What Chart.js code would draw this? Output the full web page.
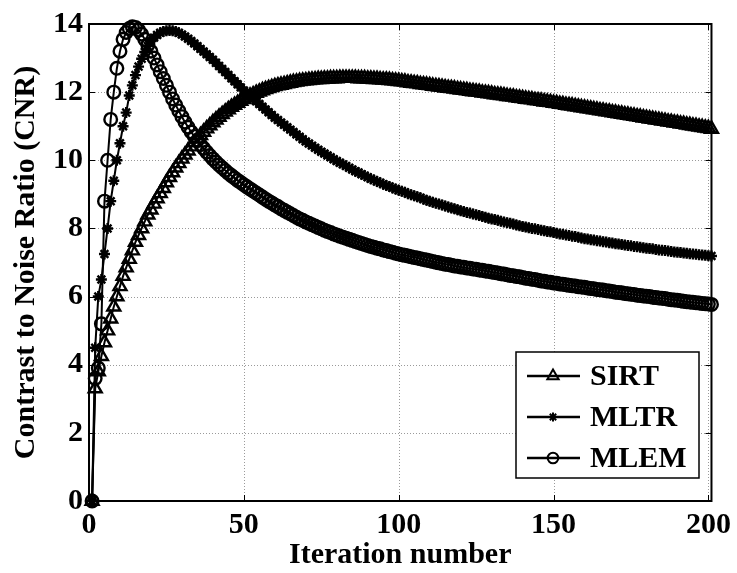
<!DOCTYPE html>
<html>
<head>
<meta charset="utf-8">
<script src="https://cdn.jsdelivr.net/npm/chart.js"></script>
<style>
  body { margin: 0; background: #fff; }
  canvas { display: block; }
</style>
</head>
<body>
<canvas id="cnr" width="737" height="573"></canvas>
<script>
// iteration numbers (x) and CNR per reconstruction method
const iterations = Array.from({ length: 201 }, (_, i) => i + 1);

const sirt = [
  0, 3.3, 3.8, 4.25, 4.65, 5.0, 5.35, 5.7, 6.0, 6.3,
  6.6, 6.85, 7.1, 7.35, 7.6, 7.8, 8.0, 8.2, 8.4, 8.55,
  8.72, 8.88, 9.03, 9.18, 9.35, 9.5, 9.64, 9.78, 9.91, 10.04,
  10.16, 10.28, 10.4, 10.52, 10.63, 10.73, 10.83, 10.93, 11.02, 11.11,
  11.19, 11.27, 11.35, 11.42, 11.49, 11.56, 11.62, 11.68, 11.74, 11.79,
  11.84, 11.89, 11.93, 11.97, 12.01, 12.05, 12.08, 12.11, 12.14, 12.17,
  12.19, 12.21, 12.23, 12.25, 12.27, 12.29, 12.3, 12.32, 12.33, 12.34,
  12.35, 12.36, 12.37, 12.38, 12.38, 12.39, 12.39, 12.4, 12.4, 12.4,
  12.41, 12.41, 12.41, 12.41, 12.41, 12.41, 12.4, 12.4, 12.4, 12.39,
  12.39, 12.38, 12.38, 12.37, 12.36, 12.36, 12.35, 12.34, 12.33, 12.32,
  12.31, 12.3, 12.28, 12.27, 12.26, 12.25, 12.23, 12.22, 12.21, 12.2,
  12.18, 12.17, 12.16, 12.15, 12.13, 12.12, 12.11, 12.1, 12.08, 12.07,
  12.06, 12.05, 12.03, 12.02, 12.01, 12.0, 11.98, 11.97, 11.96, 11.95,
  11.93, 11.92, 11.91, 11.9, 11.88, 11.87, 11.86, 11.84, 11.83, 11.82,
  11.8, 11.79, 11.78, 11.76, 11.75, 11.74, 11.72, 11.71, 11.7, 11.68,
  11.67, 11.65, 11.64, 11.62, 11.61, 11.6, 11.58, 11.57, 11.55, 11.54,
  11.52, 11.51, 11.49, 11.48, 11.46, 11.45, 11.43, 11.42, 11.4, 11.39,
  11.37, 11.36, 11.34, 11.33, 11.31, 11.3, 11.28, 11.27, 11.25, 11.24,
  11.22, 11.21, 11.19, 11.18, 11.16, 11.15, 11.13, 11.12, 11.1, 11.09,
  11.07, 11.06, 11.04, 11.03, 11.01, 11.0, 10.98, 10.97, 10.95, 10.94,
  10.92
];

const mltr = [
  0, 4.5, 6.0, 6.5, 7.25, 8.0, 8.8, 9.4, 10.0, 10.5,
  11.0, 11.4, 11.9, 12.2, 12.5, 12.75, 12.98, 13.18, 13.35, 13.5,
  13.6, 13.68, 13.74, 13.78, 13.8, 13.81, 13.8, 13.78, 13.74, 13.69,
  13.63, 13.57, 13.5, 13.43, 13.35, 13.27, 13.19, 13.11, 13.03, 12.95,
  12.86, 12.77, 12.68, 12.59, 12.5, 12.41, 12.32, 12.23, 12.14, 12.05,
  11.97, 11.89, 11.81, 11.73, 11.65, 11.57, 11.49, 11.41, 11.33, 11.25,
  11.18, 11.11, 11.04, 10.97, 10.9, 10.83, 10.76, 10.69, 10.62, 10.55,
  10.49, 10.43, 10.37, 10.31, 10.25, 10.2, 10.14, 10.09, 10.03, 9.98,
  9.93, 9.88, 9.83, 9.78, 9.73, 9.68, 9.64, 9.59, 9.55, 9.5,
  9.46, 9.42, 9.38, 9.34, 9.3, 9.26, 9.23, 9.19, 9.16, 9.12,
  9.09, 9.06, 9.02, 8.99, 8.96, 8.93, 8.9, 8.86, 8.83, 8.8,
  8.77, 8.74, 8.72, 8.69, 8.66, 8.63, 8.6, 8.58, 8.55, 8.52,
  8.5, 8.47, 8.45, 8.42, 8.4, 8.38, 8.35, 8.33, 8.3, 8.28,
  8.26, 8.24, 8.21, 8.19, 8.17, 8.15, 8.13, 8.1, 8.08, 8.06,
  8.04, 8.02, 8.0, 7.99, 7.97, 7.95, 7.93, 7.91, 7.9, 7.88,
  7.86, 7.84, 7.83, 7.81, 7.79, 7.77, 7.76, 7.74, 7.72, 7.7,
  7.69, 7.67, 7.66, 7.64, 7.63, 7.61, 7.6, 7.58, 7.57, 7.55,
  7.54, 7.53, 7.51, 7.5, 7.49, 7.47, 7.46, 7.45, 7.43, 7.42,
  7.41, 7.4, 7.38, 7.37, 7.36, 7.35, 7.34, 7.32, 7.31, 7.3,
  7.29, 7.28, 7.27, 7.26, 7.25, 7.24, 7.23, 7.22, 7.21, 7.2,
  7.19
];

const mlem = [
  0, 3.6, 3.9, 5.2, 8.8, 10.0, 11.2, 12.0, 12.7, 13.2,
  13.55, 13.75, 13.87, 13.92, 13.9, 13.82, 13.7, 13.55, 13.38, 13.2,
  13.0, 12.8, 12.6, 12.4, 12.2, 12.0, 11.8, 11.62, 11.45, 11.28,
  11.12, 10.97, 10.83, 10.7, 10.58, 10.46, 10.35, 10.24, 10.14, 10.04,
  9.95, 9.86, 9.78, 9.7, 9.62, 9.55, 9.48, 9.41, 9.35, 9.28,
  9.22, 9.16, 9.1, 9.04, 8.98, 8.92, 8.86, 8.8, 8.75, 8.69,
  8.64, 8.58, 8.53, 8.48, 8.43, 8.38, 8.33, 8.28, 8.24, 8.19,
  8.15, 8.11, 8.07, 8.03, 7.99, 7.95, 7.91, 7.88, 7.84, 7.81,
  7.77, 7.74, 7.71, 7.68, 7.65, 7.62, 7.59, 7.56, 7.53, 7.5,
  7.47, 7.45, 7.42, 7.4, 7.37, 7.35, 7.32, 7.3, 7.27, 7.25,
  7.23, 7.21, 7.19, 7.17, 7.15, 7.13, 7.11, 7.09, 7.07, 7.05,
  7.03, 7.01, 6.99, 6.97, 6.95, 6.94, 6.92, 6.9, 6.89, 6.87,
  6.86, 6.84, 6.83, 6.81, 6.8, 6.78, 6.77, 6.75, 6.74, 6.72,
  6.71, 6.69, 6.67, 6.66, 6.64, 6.62, 6.61, 6.59, 6.58, 6.56,
  6.54, 6.53, 6.51, 6.5, 6.48, 6.46, 6.45, 6.43, 6.42, 6.4,
  6.39, 6.37, 6.36, 6.35, 6.33, 6.32, 6.31, 6.29, 6.28, 6.27,
  6.25, 6.24, 6.23, 6.21, 6.2, 6.19, 6.17, 6.16, 6.15, 6.13,
  6.12, 6.11, 6.09, 6.08, 6.07, 6.06, 6.04, 6.03, 6.02, 6.01,
  6.0, 5.98, 5.97, 5.96, 5.95, 5.94, 5.92, 5.91, 5.9, 5.89,
  5.88, 5.86, 5.85, 5.84, 5.83, 5.82, 5.81, 5.8, 5.79, 5.78,
  5.77
];

const xTicks = [0, 50, 100, 150, 200];
const yTicks = [0, 2, 4, 6, 8, 10, 12, 14];

const FONT = '"Times New Roman", "Liberation Serif", serif';

const toPoints = (vals) => vals.map((v, i) => ({ x: iterations[i], y: v }));

const series = (label, vals, style, radius, fill) => ({
    label: label,
    data: toPoints(vals),
    borderColor: '#000',
    borderWidth: 2,
    pointStyle: style,
    pointRadius: radius,
    pointBorderWidth: 2.4,
    pointBorderColor: '#000',
    pointBackgroundColor: fill,
    tension: 0,
    clip: false
});

// dotted grid, boxed axes with inward ticks, and a boxed legend
const matlabFrame = {
    id: 'matlabFrame',
    beforeDatasetsDraw(chart) {
        const { ctx, chartArea: a, scales: { x, y } } = chart;
        ctx.save();
        ctx.strokeStyle = '#9a9a9a';
        ctx.lineWidth = 1;
        ctx.setLineDash([1, 2]);
        xTicks.forEach((t) => {
            const px = Math.round(x.getPixelForValue(t)) + 0.5;
            ctx.beginPath(); ctx.moveTo(px, a.top); ctx.lineTo(px, a.bottom); ctx.stroke();
        });
        yTicks.forEach((t) => {
            const py = Math.round(y.getPixelForValue(t)) + 0.5;
            ctx.beginPath(); ctx.moveTo(a.left, py); ctx.lineTo(a.right, py); ctx.stroke();
        });
        ctx.restore();
    },
    afterDatasetsDraw(chart) {
        const { ctx, chartArea: a, scales: { x, y } } = chart;
        ctx.save();
        ctx.strokeStyle = '#000';
        ctx.lineWidth = 1;
        const tl = 6;
        xTicks.forEach((t) => {
            const px = Math.round(x.getPixelForValue(t)) + 0.5;
            ctx.beginPath(); ctx.moveTo(px, a.bottom); ctx.lineTo(px, a.bottom - tl); ctx.stroke();
            ctx.beginPath(); ctx.moveTo(px, a.top); ctx.lineTo(px, a.top + tl); ctx.stroke();
        });
        yTicks.forEach((t) => {
            const py = Math.round(y.getPixelForValue(t)) + 0.5;
            ctx.beginPath(); ctx.moveTo(a.left, py); ctx.lineTo(a.left + tl, py); ctx.stroke();
            ctx.beginPath(); ctx.moveTo(a.right, py); ctx.lineTo(a.right - tl, py); ctx.stroke();
        });
        ctx.lineWidth = 2;
        ctx.strokeRect(a.left, a.top, a.right - a.left, a.bottom - a.top);

        // legend box
        const box = { left: 516, top: 352, right: 699, bottom: 478 };
        ctx.fillStyle = '#fff';
        ctx.fillRect(box.left, box.top, box.right - box.left, box.bottom - box.top);
        ctx.lineWidth = 1.5;
        ctx.strokeRect(box.left, box.top, box.right - box.left, box.bottom - box.top);
        ctx.font = 'bold 30px ' + FONT;
        ctx.textBaseline = 'middle';
        ctx.textAlign = 'left';
        chart.data.datasets.forEach((ds, i) => {
            const rowY = 376 + i * 41;
            ctx.strokeStyle = '#000';
            ctx.lineWidth = 2.5;
            ctx.beginPath(); ctx.moveTo(527, rowY); ctx.lineTo(580, rowY); ctx.stroke();
            ctx.fillStyle = ds.pointBackgroundColor;
            ctx.lineWidth = 2;
            Chart.helpers.drawPoint(ctx, {
                pointStyle: ds.pointStyle,
                radius: ds.pointRadius - 1,
                borderWidth: 2,
                rotation: 0
            }, 553, rowY);
            ctx.fillStyle = '#000';
            ctx.fillText(ds.label, 590, rowY + 1);
        });
        ctx.restore();
    }
};

new Chart(document.getElementById('cnr'), {
    type: 'line',
    data: {
        datasets: [
            series('SIRT', sirt, 'triangle', 7.5, 'rgba(0,0,0,0)'),
            series('MLTR', mltr, 'star', 5.5, '#000'),
            series('MLEM', mlem, 'circle', 6.3, 'rgba(0,0,0,0)')
        ]
    },
    options: {
        responsive: false,
        animation: false,
        layout: { padding: { top: 20, right: 24, left: 0, bottom: 0 } },
        plugins: {
            legend: { display: false },
            tooltip: { enabled: false }
        },
        scales: {
            x: {
                type: 'linear',
                min: 0,
                max: 201,
                grid: { display: false, drawTicks: false },
                border: { display: false },
                afterBuildTicks: (s) => { s.ticks = xTicks.map((v) => ({ value: v })); },
                ticks: {
                    color: '#000',
                    padding: 6,
                    maxRotation: 0,
                    autoSkip: false,
                    font: { family: FONT, size: 30, weight: 'bold' }
                },
                title: {
                    display: true,
                    text: 'Iteration number',
                    color: '#000',
                    padding: { top: 0, bottom: 0 },
                    font: { family: FONT, size: 30, weight: 'bold' }
                },
                afterFit: (s) => { s.height = 72; }
            },
            y: {
                min: 0,
                max: 14,
                grid: { display: false, drawTicks: false },
                border: { display: false },
                afterBuildTicks: (s) => { s.ticks = yTicks.map((v) => ({ value: v })); },
                ticks: {
                    color: '#000',
                    padding: 6,
                    autoSkip: false,
                    font: { family: FONT, size: 30, weight: 'bold' }
                },
                title: {
                    display: true,
                    text: 'Contrast to Noise Ratio (CNR)',
                    color: '#000',
                    padding: { top: 8, bottom: 0 },
                    font: { family: FONT, size: 30, weight: 'bold' }
                },
                afterFit: (s) => { s.width = 89; }
            }
        }
    },
    plugins: [matlabFrame]
});
</script>
</body>
</html>
